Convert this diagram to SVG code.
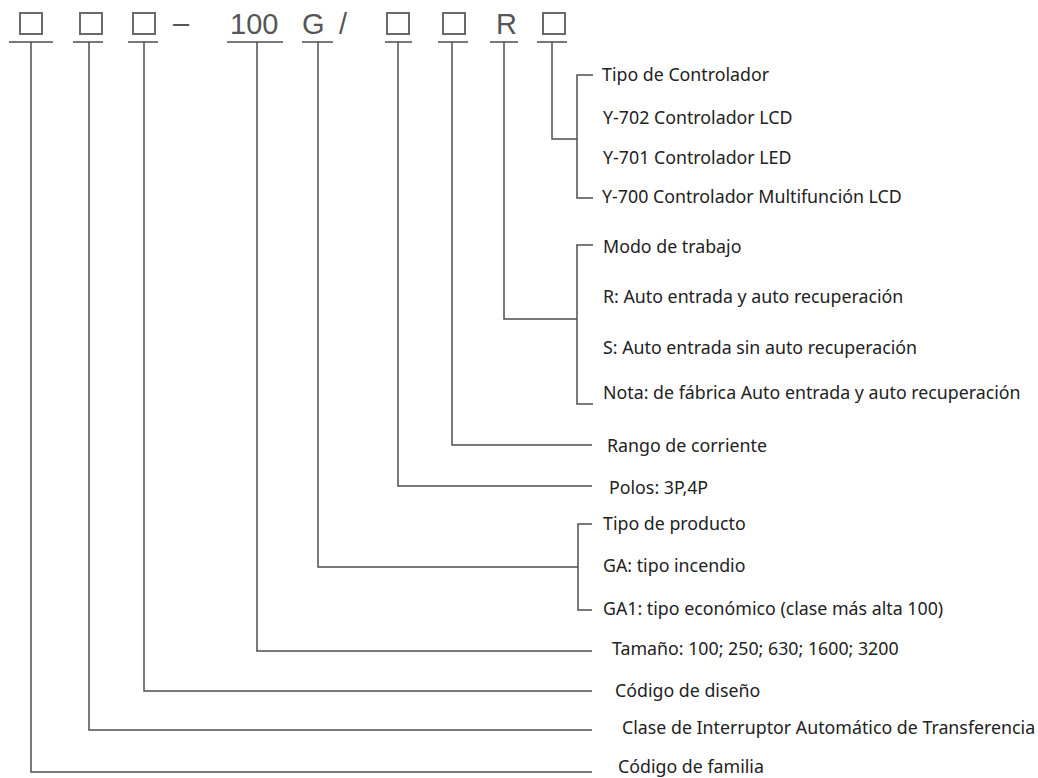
<svg xmlns="http://www.w3.org/2000/svg" width="1038" height="778" viewBox="0 0 1038 778">
<style>
.bg{fill:#ffffff}
.box{fill:none;stroke:#6a6a6a;stroke-width:2}
.code{font-family:"Liberation Sans",Arial,sans-serif;font-size:29px;fill:#555555}
.ln{fill:none;stroke:#4d4d4d;stroke-width:1.5}
.lbl{font-family:"Noto Sans","Open Sans",sans-serif;font-size:17.8px;fill:#222222}
</style>
<rect class="bg" x="0" y="0" width="1038" height="778"/>
<g id="code-row">
  <rect class="box" x="20" y="13" width="22" height="21"/>
  <rect class="box" x="80" y="13" width="22" height="21"/>
  <rect class="box" x="133" y="13" width="22" height="21"/>
  <text class="code" x="173" y="33">–</text>
  <text class="code" x="230" y="33.5">100</text>
  <text class="code" x="302" y="33.5">G</text>
  <text class="code" x="339" y="33.5">/</text>
  <rect class="box" x="387" y="13" width="22" height="21"/>
  <rect class="box" x="443" y="13" width="22" height="21"/>
  <text class="code" x="496" y="33.5">R</text>
  <rect class="box" x="543" y="13" width="22" height="21"/>
</g>
<g id="connectors">
  <line class="ln" x1="9" y1="42" x2="53" y2="42"/>
  <line class="ln" x1="73" y1="42" x2="103" y2="42"/>
  <line class="ln" x1="128" y1="42" x2="158" y2="42"/>
  <line class="ln" x1="227" y1="42" x2="283" y2="42"/>
  <line class="ln" x1="302" y1="42" x2="333" y2="42"/>
  <line class="ln" x1="385" y1="42" x2="412" y2="42"/>
  <line class="ln" x1="438" y1="42" x2="468" y2="42"/>
  <line class="ln" x1="490" y1="42" x2="518" y2="42"/>
  <line class="ln" x1="537" y1="42" x2="567" y2="42"/>
  <polyline class="ln" points="31,42 31,772 592,772"/>
  <polyline class="ln" points="89,42 89,730 592,730"/>
  <polyline class="ln" points="144,42 144,691 592,691"/>
  <polyline class="ln" points="257,42 257,651 592,651"/>
  <polyline class="ln" points="318,42 318,567 578,567"/>
  <polyline class="ln" points="398,42 398,486 592,486"/>
  <polyline class="ln" points="452,42 452,445 592,445"/>
  <polyline class="ln" points="504,42 504,319 577,319"/>
  <polyline class="ln" points="552,42 552,139 577,139"/>
  <polyline class="ln" points="593,75 577,75 577,198 593,198"/>
  <polyline class="ln" points="593,245 577,245 577,404 593,404"/>
  <polyline class="ln" points="592,524 578,524 578,610 592,610"/>
</g>
<g id="controlador">
  <text class="lbl" x="602" y="81.3">Tipo de Controlador</text>
  <text class="lbl" x="603" y="124.3">Y-702 Controlador LCD</text>
  <text class="lbl" x="603" y="164.3">Y-701 Controlador LED</text>
  <text class="lbl" x="602" y="203.3">Y-700 Controlador Multifunción LCD</text>
</g>
<g id="modo">
  <text class="lbl" x="603" y="253.3">Modo de trabajo</text>
  <text class="lbl" x="603" y="303.3">R: Auto entrada y auto recuperación</text>
  <text class="lbl" x="603" y="354.3">S: Auto entrada sin auto recuperación</text>
  <text class="lbl" x="603" y="399.3">Nota: de fábrica Auto entrada y auto recuperación</text>
</g>
<g id="rango">
  <text class="lbl" x="607" y="452.3">Rango de corriente</text>
</g>
<g id="polos">
  <text class="lbl" x="609" y="494.3">Polos: 3P,4P</text>
</g>
<g id="producto">
  <text class="lbl" x="603" y="530.3">Tipo de producto</text>
  <text class="lbl" x="603" y="572.3">GA: tipo incendio</text>
  <text class="lbl" x="603" y="615.3">GA1: tipo económico (clase más alta 100)</text>
</g>
<g id="tamano">
  <text class="lbl" x="612" y="655.3">Tamaño: 100; 250; 630; 1600; 3200</text>
</g>
<g id="diseno">
  <text class="lbl" x="615" y="697.3">Código de diseño</text>
</g>
<g id="clase">
  <text class="lbl" x="622" y="734.3">Clase de Interruptor Automático de Transferencia</text>
</g>
<g id="familia">
  <text class="lbl" x="618" y="773.3">Código de familia</text>
</g>
</svg>
